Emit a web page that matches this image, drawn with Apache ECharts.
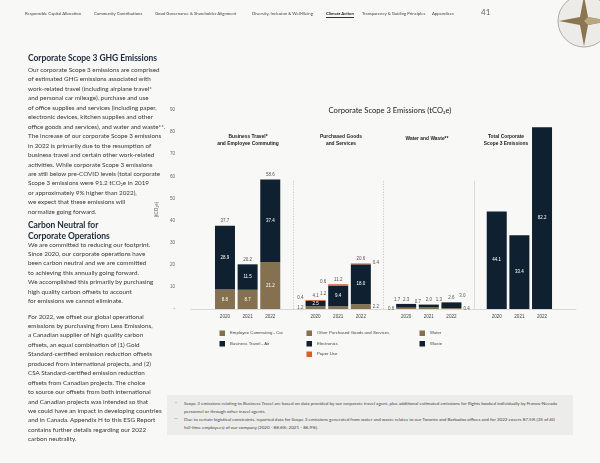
<!DOCTYPE html>
<html><head><meta charset="utf-8">
<script src="https://cdn.jsdelivr.net/npm/echarts@6/dist/echarts.min.js"></script>
<style>
html,body{margin:0;padding:0;width:600px;height:463px;overflow:hidden;background:#f8f8f7;font-family:Lato,'Open Sans',sans-serif;}
#chart{position:absolute;left:0;top:0;width:600px;height:463px;}
.ov{position:absolute;pointer-events:none;white-space:nowrap;}
.nav{top:10.5px;font-size:4.25px;color:#444;}
.h{font-weight:bold;font-size:8.5px;letter-spacing:-0.05px;color:#1c2b3a;line-height:10.5px;}
.p{font-size:6.3px;color:#383838;line-height:9.45px;}
.fnbox{position:absolute;left:167px;top:395px;width:406px;height:40px;background:#ececeb;}
.fn{font-size:4.55px;color:#444;line-height:8px;}
</style></head>
<body>
<div id="chart"></div>

<div class="ov nav" style="left:25px">Responsible Capital Allocation</div>
<div class="ov nav" style="left:94px">Community Contributions</div>
<div class="ov nav" style="left:155px">Good Governance &amp; Shareholder Alignment</div>
<div class="ov nav" style="left:252px">Diversity, Inclusion &amp; Well-Being</div>
<div class="ov nav" style="left:326px;font-weight:bold;color:#222;border-bottom:0.8px solid #333;padding-bottom:1px">Climate Action</div>
<div class="ov nav" style="left:362px">Transparency &amp; Guiding Principles</div>
<div class="ov nav" style="left:432px">Appendices</div>
<div class="ov" style="left:481px;top:7px;font-size:8px;color:#666">41</div>
<svg class="ov" style="left:540px;top:0" width="60" height="50">
  <circle cx="44" cy="21" r="26" fill="#ecebe7" stroke="#9a9a96" stroke-width="0.8"/>
  <polygon points="44,-4 48,17 69,21 48,25 44,46 40,25 19,21 40,17" fill="#8a7550"/>
  <polygon points="44,21 48,17 69,21 48,25" fill="#b9a77f"/>
</svg>

<div class="ov h" style="left:28px;top:53px">Corporate Scope 3 GHG Emissions</div>
<div class="ov p" style="left:28px;top:65px">Our corporate Scope 3 emissions are comprised<br>of estimated GHG emissions associated with<br>work-related travel (including airplane travel*<br>and personal car mileage), purchase and use<br>of office supplies and services (including paper,<br>electronic devices, kitchen supplies and other<br>office goods and services), and water and waste**.<br>The increase of our corporate Scope 3 emissions<br>in 2022 is primarily due to the resumption of<br>business travel and certain other work-related<br>activities. While corporate Scope 3 emissions<br>are still below pre-COVID levels (total corporate<br>Scope 3 emissions were 91.2 tCO₂e in 2019<br>or approximately 9% higher than 2022),<br>we expect that these emissions will<br>normalize going forward.</div>
<div class="ov h" style="left:28px;top:220px">Carbon Neutral for<br>Corporate Operations</div>
<div class="ov p" style="left:28px;top:239.5px">We are committed to reducing our footprint.<br>Since 2020, our corporate operations have<br>been carbon neutral and we are committed<br>to achieving this annually going forward.<br>We accomplished this primarily by purchasing<br>high quality carbon offsets to account<br>for emissions we cannot eliminate.</div>
<div class="ov p" style="left:28px;top:311.5px">For 2022, we offset our global operational<br>emissions by purchasing from Less Emissions,<br>a Canadian supplier of high quality carbon<br>offsets, an equal combination of (1) Gold<br>Standard-certified emission reduction offsets<br>produced from international projects, and (2)<br>CSA Standard-certified emission reduction<br>offsets from Canadian projects. The choice<br>to source our offsets from both international<br>and Canadian projects was intended so that<br>we could have an impact in developing countries<br>and in Canada. Appendix H to this ESG Report<br>contains further details regarding our 2022<br>carbon neutrality.</div>

<div class="fnbox"></div>
<div class="ov fn" style="left:175px;top:400px">*</div>
<div class="ov fn" style="left:184px;top:400px">Scope 3 emissions relating to Business Travel are based on data provided by our corporate travel agent, plus additional estimated emissions for flights booked individually by Franco-Nevada<br>personnel or through other travel agents.</div>
<div class="ov fn" style="left:174px;top:416px">**</div>
<div class="ov fn" style="left:184px;top:416px">Due to certain logistical constraints, reported data for Scope 3 emissions generated from water and waste relates to our Toronto and Barbados offices and for 2022 covers 87.5% (35 of 40<br>full-time employees) of our company (2020 - 88.6%; 2021 - 86.9%).</div>

<script>
// ---- data ----
const years = ['2020', '2021', '2022'];
const groupTitles = ['Business Travel*\nand Employee Commuting', 'Purchased Goods\nand Services', 'Water and Waste**', 'Total Corporate\nScope 3 Emissions'];
const carCommuting = [8.8, 8.7, 21.2];
const airTravel = [28.9, 11.5, 37.4];
const otherGoods = [1.2, 1.2, 2.2];
const electronics = [2.5, 9.4, 18.0];
const paperUse = [0.4, 0.6, 0.4];
const water = [0.6, 0.7, 0.4];
const waste = [1.7, 1.3, 2.6];
const totalScope3 = [44.1, 33.4, 82.2];
const businessTotals = [37.7, 20.2, 58.6];
const purchasedTotals = [4.1, 11.2, 20.6];
const waterWasteTotals = [2.3, 2.0, 3.0];
const yTickValues = [0, 10, 20, 30, 40, 50, 60, 70, 80, 90];

// ---- colours ----
const BROWN = '#857150', NAVY = '#0f2131', ORANGE = '#d4612b';

// category slots: pad, 3 bars per group, gap between groups, pad
const cats = ['pad0'];
groupTitles.forEach((g, gi) => {
  if (gi > 0) cats.push('gap' + gi);
  years.forEach(y => cats.push(gi + '|' + y));
});
cats.push('pad1');

const inLbl = () => ({show: true, position: 'inside', color: '#fff', fontSize: 4.5});
const outLbl = (pos, off) => ({show: true, position: pos, distance: 2, color: '#555', fontSize: 4.5, offset: off || [0, 0]});

function place(gi, values, labels, fmt) {
  const arr = cats.map(() => null);
  values.forEach((v, i) => {
    const item = {value: v};
    if (labels) {
      item.label = Object.assign({}, labels[i]);
      item.label.formatter = fmt ? fmt[i].toFixed(1) : v.toFixed(1);
    }
    arr[cats.indexOf(gi + '|' + years[i])] = item;
  });
  return arr;
}
function merge(...arrs) {
  return cats.map((c, i) => { for (const a of arrs) if (a[i] !== null) return a[i]; return null; });
}

const bar = (name, color, data, extra) => Object.assign({
  name, type: 'bar', stack: 'all', barWidth: 20, itemStyle: {color}, data, emphasis: {disabled: true}
}, extra || {});

const sumData = merge(
  place(0, [0, 0, 0], [outLbl('top'), outLbl('top'), outLbl('top')], businessTotals),
  place(1, [0, 0, 0], [outLbl('top'), outLbl('top'), outLbl('top')], purchasedTotals),
  place(2, [0, 0, 0], [outLbl('top'), outLbl('top'), outLbl('top', [11, -2])], waterWasteTotals)
);

const dotted = {type: [1.2, 1.5], color: '#b5b5b5', width: 0.7};
const solid = {type: 'solid', color: '#d0d0d0', width: 0.8};

const series = [
  bar('Employee Commuting - Car', BROWN, place(0, carCommuting, [inLbl(), inLbl(), inLbl()])),
  bar('Business Travel - Air', NAVY, place(0, airTravel, [inLbl(), inLbl(), inLbl()])),
  bar('Other Purchased Goods and Services', BROWN, place(1, otherGoods, [outLbl('left'), outLbl('left', [0, -14]), outLbl('right')])),
  bar('Electronics', NAVY, place(1, electronics, [inLbl(), inLbl(), inLbl()])),
  bar('Paper Use', ORANGE, place(1, paperUse, [outLbl('left', [0, -3]), outLbl('left', [0, -3]), outLbl('right', [0, -1])])),
  bar('Water', BROWN, place(2, water, [outLbl('left'), outLbl('top', [-11, -1]), outLbl('right')])),
  bar('Waste', NAVY, place(2, waste, [outLbl('top', [-9, 0]), outLbl('top', [10, 0]), outLbl('top', [0, 0])])),
  bar('Total Corporate Scope 3 Emissions', NAVY, place(3, totalScope3, [inLbl(), inLbl(), inLbl()])),
  bar('sum', 'rgba(0,0,0,0)', sumData, {
    markLine: {
      symbol: 'none', silent: true, label: {show: false},
      data: [
        [{coord: ['gap1', 0], lineStyle: dotted}, {coord: ['gap1', 58]}],
        [{coord: ['gap2', 0], lineStyle: dotted}, {coord: ['gap2', 58]}],
        [{coord: ['gap3', 0], lineStyle: solid}, {coord: ['gap3', 58]}]
      ]
    }
  })
];

const legendBase = {orient: 'vertical', icon: 'rect', itemWidth: 5.5, itemHeight: 5.5, itemGap: 5, padding: 0,
  textStyle: {fontSize: 4.3, color: '#444'}, selectedMode: false};

const chart = echarts.init(document.getElementById('chart'), null, {renderer: 'canvas'});
chart.setOption({
  animation: false,
  backgroundColor: 'transparent',
  grid: {left: 191, right: 24, top: 110, bottom: 154, containLabel: false},
  xAxis: {
    type: 'category', data: cats,
    axisTick: {show: false},
    axisLine: {lineStyle: {color: '#cfcfcf', width: 0.8}},
    axisLabel: {interval: 0, fontSize: 4.6, color: '#444', margin: 5,
      formatter: v => v.indexOf('|') >= 0 ? v.split('|')[1] : ''}
  },
  yAxis: {
    type: 'value', min: yTickValues[0], max: yTickValues[yTickValues.length - 1], interval: 10,
    splitLine: {show: false}, axisLine: {show: false}, axisTick: {show: false},
    axisLabel: {fontSize: 4.6, color: '#666', margin: 16, formatter: v => v === 0 ? '-' : String(v)},
    name: '(tCO₂e)', nameLocation: 'middle', nameRotate: 90, nameGap: 27,
    nameTextStyle: {fontSize: 4.6, color: '#555'}
  },
  legend: [
    Object.assign({left: 219.5, top: 330.5, data: ['Employee Commuting - Car', 'Business Travel - Air']}, legendBase),
    Object.assign({left: 306.5, top: 330.5, data: ['Other Purchased Goods and Services', 'Electronics', 'Paper Use']}, legendBase),
    Object.assign({left: 419.5, top: 330.5, data: ['Water', 'Waste']}, legendBase)
  ],
  graphic: [
    {type: 'text', x: 390, y: 111, style: {text: 'Corporate Scope 3 Emissions (tCO₂e)', fontSize: 7.6, fill: '#222', align: 'center', verticalAlign: 'middle', fontFamily: 'Lato'}},
    {type: 'text', x: 248, y: 140, style: {text: groupTitles[0], fontSize: 4.9, fontWeight: 'bold', fill: '#222', align: 'center', verticalAlign: 'middle', lineHeight: 7}},
    {type: 'text', x: 341, y: 140, style: {text: groupTitles[1], fontSize: 4.9, fontWeight: 'bold', fill: '#222', align: 'center', verticalAlign: 'middle', lineHeight: 7}},
    {type: 'text', x: 427, y: 139, style: {text: groupTitles[2], fontSize: 4.9, fontWeight: 'bold', fill: '#222', align: 'center', verticalAlign: 'middle', lineHeight: 7}},
    {type: 'text', x: 506, y: 140, style: {text: groupTitles[3], fontSize: 4.9, fontWeight: 'bold', fill: '#222', align: 'center', verticalAlign: 'middle', lineHeight: 7}}
  ],
  series
});
</script>
</body></html>
